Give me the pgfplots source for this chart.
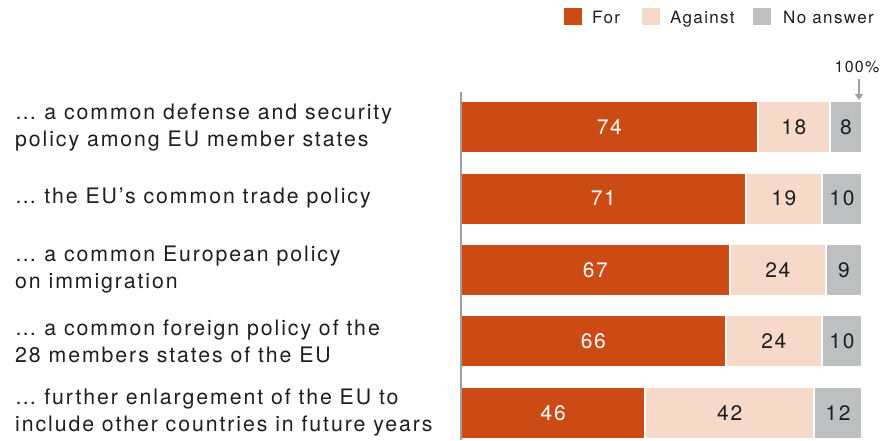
\documentclass[border=0pt]{standalone}
\usepackage{pgfplots}
\pgfplotsset{compat=1.18}
\usepackage{fontspec}
\setmainfont{TeX Gyre Heros}[LetterSpace=8]
\newfontfamily\labelfont{TeX Gyre Heros}[LetterSpace=9]
\usetikzlibrary{arrows.meta}
\definecolor{cfor}{HTML}{CC4A14}
\definecolor{cagainst}{HTML}{F7D9C9}
\definecolor{cno}{HTML}{BEBFC1}
\definecolor{ctext}{HTML}{1E1E1E}
\definecolor{caxis}{HTML}{A0A0A0}
\begin{document}
\begin{tikzpicture}[x=1pt,y=1pt]
\useasboundingbox (0,0) rectangle (891,440);
\begin{axis}[
  at={(461pt,0pt)}, anchor=south west,
  scale only axis, width=401pt, height=348pt,
  xmin=0, xmax=100, ymin=-0.378, ymax=4.49,
  xbar stacked, bar width=52pt,
  axis x line=none, axis y line=left,
  y axis line style={caxis, line width=1.2pt, -},
  axis on top,
  ytick={0,1,2,3,4}, major tick length=0pt,
  yticklabels={{… further enlargement of the EU to\\include other countries in future years},
               {… a common foreign policy of the\\28 members states of the EU},
               {… a common European policy\\on immigration},
               {… the EU’s common trade policy},
               {… a common defense and security\\policy among EU member states}},
  yticklabel style={anchor=west, align=left, inner sep=0pt, xshift=-446pt,
     font=\labelfont\fontsize{21.3}{27}\selectfont, text=ctext},
  /pgf/number format/assume math mode=true,
  nodes near coords,
  every node near coord/.append style={anchor=center,
     font=\fontsize{21}{24}\selectfont, text=ctext},
]
\addplot[fill=cfor, draw=white, line width=2pt, every node near coord/.append style={text=white}]
  coordinates {(46,0) (66,1) (67,2) (71,3) (74,4)};
\addplot[fill=cagainst, draw=white, line width=2pt]
  coordinates {(42,0) (24,1) (24,2) (19,3) (18,4)};
\addplot[fill=cno, draw=white, line width=2pt]
  coordinates {(12,0) (10,1) (9,2) (10,3) (8,4)};
\end{axis}
% legend
\begin{scope}[font=\fontsize{17}{20}\selectfont, text=ctext]
\fill[cfor] (564,415) rectangle (582,432);
\node[anchor=base west, inner sep=0pt] at (592,416) {For};
\fill[cagainst] (642,415) rectangle (660,432);
\node[anchor=base west, inner sep=0pt] at (670,416) {Against};
\fill[cno] (753,415) rectangle (771,432);
\node[anchor=base west, inner sep=0pt] at (783,416) {No answer};
\end{scope}
\node[anchor=base, inner sep=0pt, font=\fontsize{16}{18}\selectfont, text=ctext] at (857,367) {100\%};
\draw[caxis, line width=1.5pt, -{Triangle[length=6pt,width=8pt]}] (859,361) -- (859,340);
\end{tikzpicture}
\end{document}
